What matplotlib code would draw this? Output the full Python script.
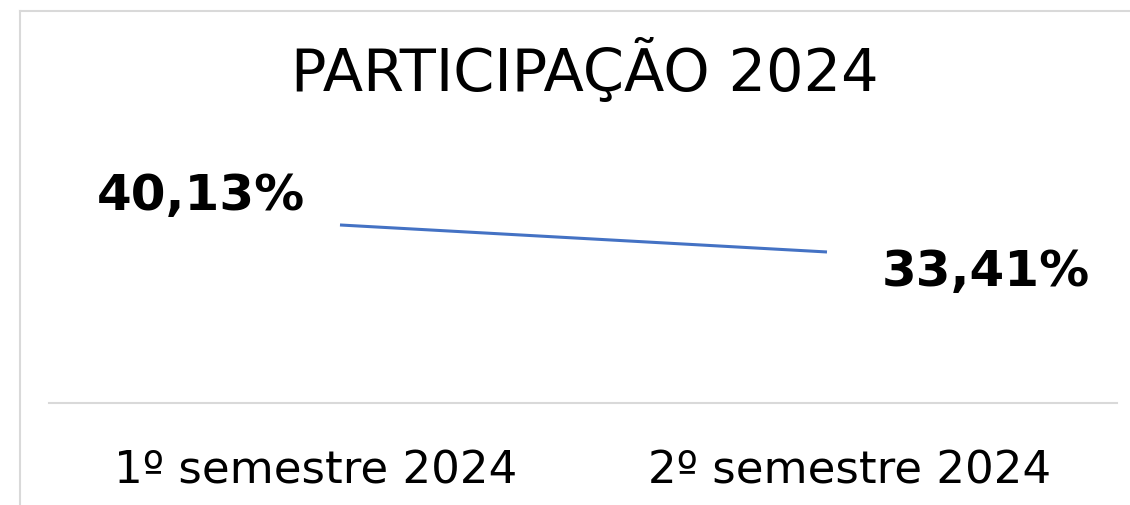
import matplotlib
matplotlib.use("Agg")
import matplotlib.pyplot as plt
from matplotlib.lines import Line2D

categories = ["1º semestre 2024", "2º semestre 2024"]
values = [40.13, 33.41]
labels = ["40,13%", "33,41%"]
title = "PARTICIPAÇÃO 2024"

W, H = 1130, 506
fig = plt.figure(figsize=(W / 100, H / 100), dpi=100)
plt.rcParams['font.family'] = ['DejaVu Sans']

# axes spanning x 49..1117, y 120..404 (pixels from top)
ax = fig.add_axes([49 / W, 1 - 404 / H, (1117 - 49) / W, (404 - 120) / H])
x = [0, 1]
ax.plot(x, values, color="#4472C4", lw=2.2, solid_capstyle="butt")
ax.set_xlim(-0.5975, 1.5955)
ax.set_ylim(-4.17, 66.5)
ax.set_yticks([])
for s in ["top", "left", "right"]:
    ax.spines[s].set_visible(False)
ax.spines["bottom"].set_color("#D9D9D9")
ax.spines["bottom"].set_linewidth(1.5)
ax.set_xticks([-0.049, 1.047])
ax.set_xticklabels(categories, fontsize=32.5, color="black")
ax.tick_params(axis="x", length=0, pad=33)

offsets = [(-139, 30), (159, -19)]
for xi, v, lab, off in zip(x, values, labels, offsets):
    ax.annotate(lab, (xi, v), xytext=off, textcoords="offset pixels",
                ha="center", va="center", fontsize=36, fontweight="bold",
                color="black")

fig.text(585 / W, 1 - 71 / H, title, ha="center", va="center", fontsize=42.5,
         color="black")

# chart border (light gray), left and top visible
fig.add_artist(Line2D([20 / W, 20 / W], [0, 1 - 12 / H], transform=fig.transFigure,
                      color="#D9D9D9", lw=1.5))
fig.add_artist(Line2D([20 / W, 1], [1 - 12 / H, 1 - 12 / H], transform=fig.transFigure,
                      color="#D9D9D9", lw=1.5))

fig.savefig("out.png", dpi=100, facecolor="white")
